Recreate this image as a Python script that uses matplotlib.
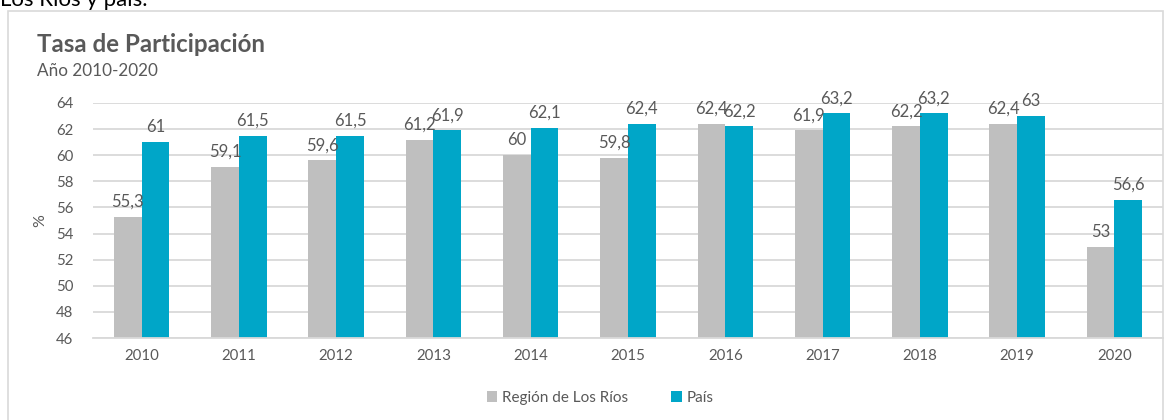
import numpy as np
import matplotlib.pyplot as plt
from matplotlib.patches import Rectangle

# Datos
anios = ['2010', '2011', '2012', '2013', '2014', '2015', '2016', '2017', '2018', '2019', '2020']
region = [55.3, 59.1, 59.6, 61.2, 60, 59.8, 62.4, 61.9, 62.2, 62.4, 53]
pais = [61, 61.5, 61.5, 61.9, 62.1, 62.4, 62.2, 63.2, 63.2, 63, 56.6]

gris = '#BFBFBF'
azul = '#00A6C8'
texto = '#595959'

plt.rcParams['font.family'] = ['Lato', 'DejaVu Sans']

fig = plt.figure(figsize=(11.7, 4.2), dpi=100)
W, H = 1170, 420

# marco del gráfico
fig.patches.append(Rectangle((8 / W, -0.05), 1155 / W, 1 - 11 / H + 0.05,
                             transform=fig.transFigure, fill=False,
                             edgecolor='#D9D9D9', linewidth=1.2))

# texto cortado arriba
fig.text(0 / W, 1 + 10 / H, 'Los Ríos y país.', fontsize=16, color='black',
         ha='left', va='top')

ax = fig.add_axes([93 / W, 1 - 338 / H, (1163 - 93) / W, (338 - 103) / H])

x = np.arange(len(anios))
ancho = 0.285
b1 = ax.bar(x - ancho / 2, np.array(region) - 46, ancho, bottom=46, color=gris,
            label='Región de Los Ríos', zorder=2)
b2 = ax.bar(x + ancho / 2, np.array(pais) - 46, ancho, bottom=46, color=azul,
            label='País', zorder=2)

def fmt(v):
    return ('%g' % v).replace('.', ',')

for xs, vals in ((x - ancho / 2, region), (x + ancho / 2, pais)):
    for xi, v in zip(xs, vals):
        ax.annotate(fmt(v), (xi, v), xytext=(0, 5), textcoords='offset points',
                    ha='center', va='bottom', fontsize=12, color=texto, zorder=3)

ax.set_xlim(-0.5, len(anios) - 0.5)
ax.set_ylim(46, 64)
ax.set_yticks(np.arange(46, 65, 2))
ax.set_xticks(x)
ax.set_xticklabels(anios)
ax.grid(axis='y', color='#D9D9D9', linewidth=1.3, zorder=0)
ax.tick_params(length=0, labelsize=10.8, colors=texto, pad=8)
ax.tick_params(axis='y', pad=14)
for s in ['top', 'right', 'left']:
    ax.spines[s].set_visible(False)
ax.spines['bottom'].set_color('#D9D9D9')
ax.spines['bottom'].set_linewidth(1.3)
ax.set_ylabel('%', fontsize=11.5, color=texto, labelpad=6)

fig.text(37 / W, 1 - 44 / H, 'Tasa de Participación', fontsize=17.4, fontweight='bold',
         color=texto, ha='left', va='center')
fig.text(37 / W, 1 - 71 / H, 'Año 2010-2020', fontsize=12.3, color=texto,
         ha='left', va='center')

fig.legend(handles=[b1, b2], loc='center', bbox_to_anchor=(600 / W, 1 - 398 / H),
           ncol=2, frameon=False, fontsize=11, labelcolor=texto,
           handlelength=0.7, handleheight=0.7, handletextpad=0.3, columnspacing=2.8)

plt.savefig('out.png', dpi=100)
